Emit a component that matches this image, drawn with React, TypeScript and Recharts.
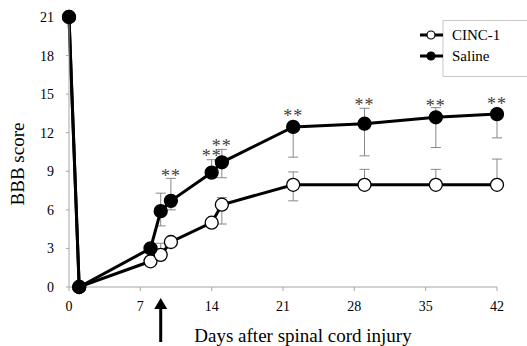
import {
  ComposedChart,
  Line,
  Scatter,
  XAxis,
  YAxis,
  ErrorBar,
  Legend,
  ReferenceDot,
} from "recharts";

const days = [0, 1, 8, 9, 10, 14, 15, 22, 29, 36, 42];
const saline = [21, 0, 3, 5.9, 6.7, 8.9, 9.7, 12.45, 12.7, 13.2, 13.45];
const cinc = [21, 0, 2.0, 2.5, 3.5, 5.0, 6.4, 7.95, 7.95, 7.95, 7.95];
// [down, up]
const salineErr = [
  [0, 0], [0, 0], [0, 0], [1.15, 1.4], [0.7, 1.75], [0, 1.0],
  [1.2, 1.0], [2.35, 0], [2.5, 1.2], [2.35, 0.75], [1.85, 0],
];
const cincErr = [
  [0, 0], [0, 0], [0, 0], [0, 0.9], [0, 0], [0, 0],
  [1.5, 0.55], [1.25, 1.0], [0, 1.2], [0, 1.2], [0, 2.0],
];
const sigDays = [10, 14, 15, 22, 29, 36, 42];
const sigY = [8.9, 10.4, 11.2, 13.5, 14.4, 14.35, 14.45];
const xTicks = [0, 7, 14, 21, 28, 35, 42];
const yTicks = [0, 3, 6, 9, 12, 15, 18, 21];
const injectionDay = 9;

const FONT = "'Liberation Serif', 'Times New Roman', serif";
const GRAY = "#a6a6a6";

const chartData = days.map((d, i) => ({
  day: d,
  saline: saline[i],
  cinc: cinc[i],
  salineErr: salineErr[i],
  cincErr: cincErr[i],
}));
const sigData = sigDays.map((d, i) => ({ day: d, y: sigY[i] }));

const dot = (fill: string) => (props: any) => {
  const { cx, cy, index } = props;
  if (cx == null || cy == null) return <g key={index} />;
  return <circle key={index} cx={cx} cy={cy} r={6.5} fill={fill} stroke="#000" strokeWidth={1.3} />;
};

const Stars = (props: any) => (
  <text
    x={props.cx}
    y={props.cy + 9}
    textAnchor="middle"
    fontFamily={FONT}
    fontSize={18}
    letterSpacing={1}
    fill="#404040"
    stroke="none"
  >
    **
  </text>
);

const Arrow = (props: any) => {
  const { cx, cy } = props;
  return (
    <path
      d={`M${cx},${cy + 11} L${cx + 6.5},${cy + 22} L${cx + 1.5},${cy + 22} L${cx + 1.5},${cy + 55} L${cx - 1.5},${cy + 55} L${cx - 1.5},${cy + 22} L${cx - 6.5},${cy + 22} Z`}
      fill="#000"
    />
  );
};

const renderLegend = () => (
  <svg width={115} height={60} style={{ display: "block" }}>
    <rect x={25} y={0.5} width={100} height={56} fill="#fff" stroke="#c8c8c8" />
    {[
      { label: "CINC-1", fill: "#fff", y: 15 },
      { label: "Saline", fill: "#000", y: 36 },
    ].map((r) => (
      <g key={r.label}>
        <line x1={2} x2={25} y1={r.y} y2={r.y} stroke="#000" strokeWidth={3} />
        <circle cx={13} cy={r.y} r={4} fill={r.fill} stroke="#000" strokeWidth={1.2} />
        <text x={34} y={r.y + 5} fontFamily={FONT} fontSize={15} fill="#000">
          {r.label}
        </text>
      </g>
    ))}
  </svg>
);

const XLabel = (props: any) => {
  const vb = props.viewBox;
  return (
    <text
      x={vb.x + vb.width / 2 + 20}
      y={vb.y + 55}
      textAnchor="middle"
      fontFamily={FONT}
      fontSize={19}
      fill="#000"
    >
      Days after spinal cord injury
    </text>
  );
};

const YLabel = (props: any) => {
  const vb = props.viewBox;
  const x = vb.x + 24;
  const y = vb.y + vb.height / 2 + 12;
  return (
    <text
      x={x}
      y={y}
      transform={`rotate(-90, ${x}, ${y})`}
      textAnchor="middle"
      fontFamily={FONT}
      fontSize={19}
      fill="#000"
    >
      BBB score
    </text>
  );
};

export default function App() {
  return (
    <div style={{ position: "absolute", left: 0, top: 0, background: "#fff" }}>
      <ComposedChart
        width={527}
        height={346}
        data={chartData}
        margin={{ top: 17, right: 30, bottom: 0, left: 0 }}
      >
        <XAxis
          dataKey="day"
          type="number"
          domain={[0, 42]}
          ticks={xTicks}
          height={59}
          stroke={GRAY}
          tickSize={4}
          tickMargin={10}
          tick={{ fill: "#000", fontSize: 14, fontFamily: FONT }}
          label={<XLabel />}
        />
        <YAxis
          type="number"
          domain={[0, 21]}
          ticks={yTicks}
          width={69}
          stroke={GRAY}
          tickSize={3}
          tickMargin={12}
          tick={{ fill: "#000", fontSize: 14, fontFamily: FONT }}
          label={<YLabel />}
        />
        <Legend
          content={renderLegend}
          layout="horizontal"
          verticalAlign="middle"
          wrapperStyle={{ position: "absolute", left: 418, top: 20, width: 115 }}
        />
        <Line
          dataKey="cinc"
          stroke="#000"
          strokeWidth={3}
          dot={dot("#fff")}
          isAnimationActive={false}
        >
          <ErrorBar dataKey="cincErr" width={5} stroke="#888" strokeWidth={1} />
        </Line>
        <Line
          dataKey="saline"
          stroke="#000"
          strokeWidth={3}
          dot={dot("#000")}
          isAnimationActive={false}
        >
          <ErrorBar dataKey="salineErr" width={5} stroke="#888" strokeWidth={1} />
        </Line>
        <Scatter data={sigData} dataKey="y" shape={<Stars />} isAnimationActive={false} />
        <ReferenceDot x={injectionDay} y={0} ifOverflow="visible" shape={<Arrow />} />
      </ComposedChart>
    </div>
  );
}
